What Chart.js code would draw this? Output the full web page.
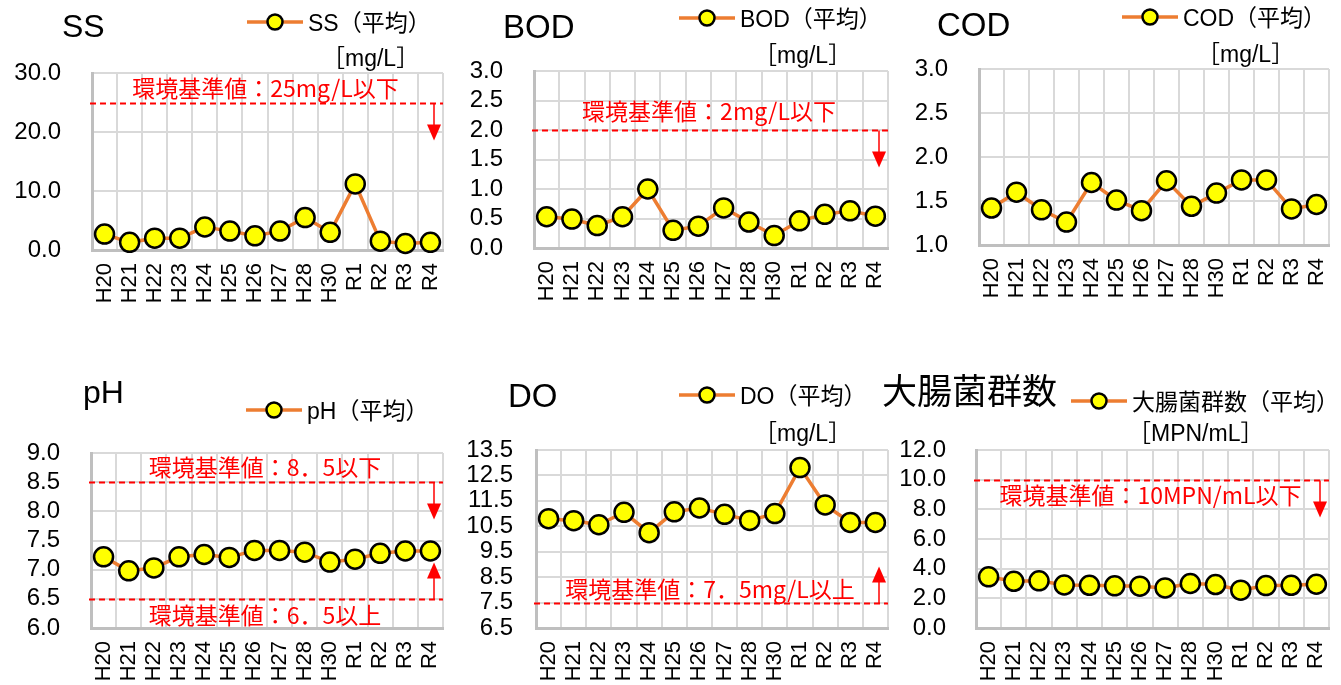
<!DOCTYPE html>
<html>
<head>
<meta charset="utf-8">
<script src="https://cdn.jsdelivr.net/npm/chart.js@4/dist/chart.umd.min.js"></script>
<style>
  body { margin: 0; background: #fff; width: 1341px; height: 685px; overflow: hidden; position: relative; }
  canvas { position: absolute; }
</style>
</head>
<body>
<canvas id="ss"></canvas>
<canvas id="bod"></canvas>
<canvas id="cod"></canvas>
<canvas id="ph"></canvas>
<canvas id="do"></canvas>
<canvas id="coli"></canvas>
<script>
// 年度
const years = ['H20', 'H21', 'H22', 'H23', 'H24', 'H25', 'H26', 'H27', 'H28', 'H30', 'R1', 'R2', 'R3', 'R4'];

// 各項目の平均値
const ssValues   = [2.7, 1.3, 2.0, 2.0, 3.9, 3.2, 2.4, 3.2, 5.5, 3.0, 11.2, 1.5, 1.1, 1.3];
const bodValues  = [0.53, 0.49, 0.38, 0.53, 1.0, 0.30, 0.37, 0.68, 0.44, 0.21, 0.46, 0.57, 0.63, 0.54];
const codValues  = [1.42, 1.60, 1.40, 1.26, 1.71, 1.51, 1.39, 1.73, 1.44, 1.59, 1.74, 1.74, 1.41, 1.46];
const phValues   = [7.22, 6.98, 7.03, 7.22, 7.26, 7.21, 7.33, 7.33, 7.30, 7.13, 7.18, 7.28, 7.32, 7.32];
const doValues   = [10.80, 10.72, 10.56, 11.05, 10.25, 11.07, 11.22, 10.97, 10.73, 11.00, 12.81, 11.34, 10.65, 10.65];
const coliValues = [3.45, 3.15, 3.18, 2.90, 2.88, 2.84, 2.82, 2.70, 3.00, 2.93, 2.55, 2.86, 2.88, 2.95];

// 環境基準値
const ssLimit = 25;
const bodLimit = 2;
const phUpper = 8.5;
const phLower = 6.5;
const doLimit = 7.5;
const coliLimit = 10;

const latinFont = '"Liberation Sans", "Noto Sans CJK JP", sans-serif';
const cjkFont = '"Noto Sans CJK JP", sans-serif';

//Dibuja titulo, leyenda, unidad y lineas de norma
const decorPlugin = {
  id: 'decor',
  afterDraw(chart, args, opt) {
    const ctx = chart.ctx;
    const { left, right } = chart.chartArea;
    const yScale = chart.scales.y;
    const ox = opt.box.x, oy = opt.box.y;
    ctx.save();

    // titulo
    ctx.fillStyle = '#000';
    ctx.textAlign = 'left';
    ctx.textBaseline = 'alphabetic';
    ctx.font = opt.titleSize + 'px ' + latinFont;
    ctx.fillText(opt.title, opt.titlePos[0] - ox, opt.titlePos[1] - oy);

    // leyenda
    const lx = opt.legendPos[0] - ox, ly = opt.legendPos[1] - oy;
    ctx.strokeStyle = '#ed7d31';
    ctx.lineWidth = 3.5;
    ctx.beginPath();
    ctx.moveTo(lx, ly);
    ctx.lineTo(lx + 56, ly);
    ctx.stroke();
    ctx.beginPath();
    ctx.arc(lx + 28, ly, 7.5, 0, Math.PI * 2);
    ctx.fillStyle = '#ffff00';
    ctx.fill();
    ctx.lineWidth = 2.5;
    ctx.strokeStyle = '#000';
    ctx.stroke();
    ctx.fillStyle = '#000';
    ctx.font = '23px ' + latinFont;
    ctx.fillText(opt.legend, lx + 61, ly + 9);

    // unidad
    if (opt.unit) {
      ctx.font = '23px ' + latinFont;
      ctx.fillText(opt.unit, opt.unitPos[0] - ox, opt.unitPos[1] - oy);
    }

    // normas
    (opt.standards || []).forEach(s => {
      const py = Math.round(yScale.getPixelForValue(s.value)) + 0.5;
      ctx.strokeStyle = '#ff0000';
      ctx.lineWidth = 2;
      ctx.setLineDash([6, 4]);
      ctx.beginPath();
      ctx.moveTo(left - 2, py);
      ctx.lineTo(right, py);
      ctx.stroke();
      ctx.setLineDash([]);

      ctx.fillStyle = '#ff0000';
      ctx.font = '23px ' + cjkFont;
      ctx.textAlign = 'center';
      ctx.textBaseline = 'middle';
      ctx.fillText(s.text, (left + right) / 2 - 2, py + s.dy);

      const ax = right - 9;
      const tip = py + s.dir * 37;
      ctx.lineWidth = 1.5;
      ctx.beginPath();
      ctx.moveTo(ax, py);
      ctx.lineTo(ax, tip - s.dir * 14);
      ctx.stroke();
      ctx.beginPath();
      ctx.moveTo(ax - 7, tip - s.dir * 16);
      ctx.lineTo(ax + 7, tip - s.dir * 16);
      ctx.lineTo(ax, tip);
      ctx.closePath();
      ctx.fill();
    });
    ctx.restore();
  }
};

let crearGrafico = (id, box, area, values, yMin, yMax, step, decor) => {
  let canvas = document.getElementById(id);
  canvas.width = box.w;
  canvas.height = box.h;
  canvas.style.left = box.x + 'px';
  canvas.style.top = box.y + 'px';

  decor.box = box;

  let config = {
    type: 'line',
    data: {
      labels: years,
      datasets: [{
        data: values,
        borderColor: '#ed7d31',
        borderWidth: 3.5,
        pointRadius: 9.5,
        pointHoverRadius: 9.5,
        pointBackgroundColor: '#ffff00',
        pointBorderColor: '#000',
        pointBorderWidth: 2.5,
        tension: 0,
        clip: false
      }]
    },
    options: {
      responsive: false,
      animation: false,
      events: [],
      layout: {
        padding: { left: 0, top: area.t - box.y, right: box.x + box.w - area.r, bottom: 0 }
      },
      plugins: {
        legend: { display: false },
        tooltip: { enabled: false },
        decor: decor
      },
      scales: {
        x: {
          offset: true,
          afterFit: (scale) => {
            scale.height = box.y + box.h - area.b;
            scale.paddingLeft = 0;
            scale.paddingRight = 0;
          },
          grid: { offset: true, color: '#d9d9d9', lineWidth: 2, drawTicks: false },
          border: { color: '#bfbfbf', width: 3 },
          ticks: {
            autoSkip: false, minRotation: 90, maxRotation: 90, padding: 13,
            color: '#000', font: { family: latinFont, size: 22 }
          }
        },
        y: {
          min: yMin,
          max: yMax,
          afterFit: (scale) => {
            scale.width = area.l - box.x;
            scale.paddingTop = 0;
            scale.paddingBottom = 0;
          },
          grid: { color: '#d9d9d9', lineWidth: 2, drawTicks: false },
          border: { color: '#bfbfbf', width: 3 },
          ticks: {
            stepSize: step, autoSkip: false, padding: decor.tickPad || 31,
            color: '#000', font: { family: latinFont, size: 24 },
            callback: (v) => Number(v).toFixed(1)
          }
        }
      }
    },
    plugins: [decorPlugin]
  };

  return new Chart(canvas, config);
};

crearGrafico('ss', { x: 0, y: 0, w: 455, h: 330 }, { l: 92, t: 73, r: 451, b: 250 }, ssValues, 0, 30, 10, {
  title: 'SS', titleSize: 32, titlePos: [62, 37],
  legend: 'SS（平均）', legendPos: [247, 22],
  unit: '［mg/L］', unitPos: [322, 66],
  standards: [{ value: ssLimit, text: '環境基準値：25mg/L以下', dy: -15, dir: 1 }]
});

crearGrafico('bod', { x: 455, y: 0, w: 445, h: 330 }, { l: 534, t: 71, r: 895, b: 248 }, bodValues, 0, 3, 0.5, {
  title: 'BOD', titleSize: 33, titlePos: [503, 38],
  legend: 'BOD（平均）', legendPos: [679, 18],
  unit: '［mg/L］', unitPos: [754, 63],
  standards: [{ value: bodLimit, text: '環境基準値：2mg/L以下', dy: -19, dir: 1 }]
});

crearGrafico('cod', { x: 900, y: 0, w: 441, h: 330 }, { l: 979, t: 69, r: 1339, b: 245 }, codValues, 1, 3, 0.5, {
  title: 'COD', titleSize: 33, titlePos: [937, 36],
  legend: 'COD（平均）', legendPos: [1122, 17],
  unit: '［mg/L］', unitPos: [1197, 62],
  standards: []
});

crearGrafico('ph', { x: 0, y: 340, w: 455, h: 345 }, { l: 91, t: 453, r: 451, b: 628 }, phValues, 6, 9, 0.5, {
  title: 'pH', titleSize: 32, titlePos: [83, 403],
  legend: 'pH（平均）', legendPos: [246, 410],
  unit: '', unitPos: [0, 0],
  standards: [
    { value: phUpper, text: '環境基準値：8．5以下', dy: -15, dir: 1 },
    { value: phLower, text: '環境基準値：6．5以上', dy: 16, dir: -1 }
  ]
});

crearGrafico('do', { x: 455, y: 340, w: 445, h: 345 }, { l: 536, t: 450, r: 895, b: 628 }, doValues, 6.5, 13.5, 1, {
  title: 'DO', titleSize: 33, titlePos: [508, 407], tickPad: 23,
  legend: 'DO（平均）', legendPos: [679, 395],
  unit: '［mg/L］', unitPos: [754, 441],
  standards: [{ value: doLimit, text: '環境基準値：7．5mg/L以上', dy: -14, dir: -1 }]
});

crearGrafico('coli', { x: 870, y: 340, w: 471, h: 345 }, { l: 976, t: 450, r: 1336, b: 628 }, coliValues, 0, 12, 2, {
  title: '大腸菌群数', titleSize: 35, titlePos: [882, 404], tickPad: 30,
  legend: '大腸菌群数（平均）', legendPos: [1071, 401],
  unit: '［MPN/mL］', unitPos: [1128, 441],
  standards: [{ value: coliLimit, text: '環境基準値：10MPN/mL以下', dy: 15, dir: 1 }]
});
</script>
</body>
</html>
